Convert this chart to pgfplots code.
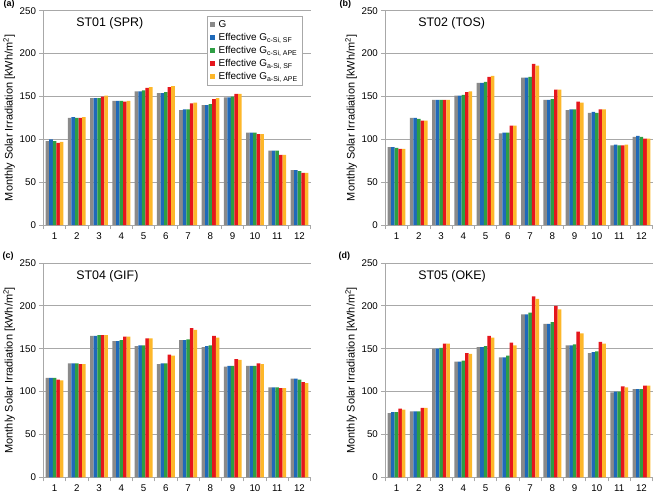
\documentclass[border=0pt]{standalone}
\usepackage{pgfplots}
\pgfplotsset{compat=1.18}
\usepackage{pgfplotstable}
\usepgfplotslibrary{groupplots}
\usepackage{fontspec}
\setmainfont{Liberation Sans}

\definecolor{cG}{HTML}{8A8A8A}
\definecolor{cB}{HTML}{1F69B9}
\definecolor{cGr}{HTML}{2E9E44}
\definecolor{cR}{HTML}{E5161C}
\definecolor{cO}{HTML}{FDB72A}
\definecolor{gridgray}{HTML}{A8A8A8}

% m G cSF cAPE aSF aAPE
\pgfplotstableread{
m G cSF cAPE aSF aAPE
1 98 100 98 96 97
2 125 126 125 125 126
3 148 148 148 150 151
4 145 145 145 144 145
5 156 156 157 160 161
6 154 154 155 161 162
7 134 135 135 142 143
8 140 140 141 147 148
9 149 149 150 153 153
10 108 108 108 106 106
11 87 87 87 82 82
12 64 64 63 61 61
}\stA
\pgfplotstableread{
m G cSF cAPE aSF aAPE
1 91 91 90 89 89
2 125 125 124 122 122
3 146 146 146 146 146
4 151 151 152 155 156
5 166 166 167 173 174
6 107 108 108 116 116
7 172 172 173 188 186
8 146 146 147 158 158
9 134 135 135 144 143
10 131 132 131 135 135
11 93 94 93 93 94
12 103 104 103 101 101
}\stB
\pgfplotstableread{
m G cSF cAPE aSF aAPE
1 116 116 116 114 113
2 133 133 133 132 132
3 165 165 166 166 166
4 159 159 160 164 164
5 153 154 154 162 162
6 132 133 133 143 142
7 160 160 161 174 172
8 152 153 154 165 163
9 129 130 130 138 137
10 130 130 130 133 132
11 105 105 105 104 104
12 115 115 114 111 110
}\stC
\pgfplotstableread{
m G cSF cAPE aSF aAPE
1 75 76 76 80 79
2 77 77 77 81 81
3 150 150 151 156 156
4 135 135 136 145 144
5 152 152 153 165 163
6 140 140 142 157 154
7 190 190 192 211 208
8 179 179 181 200 196
9 154 154 155 170 168
10 145 146 147 158 156
11 99 100 100 106 105
12 103 103 103 107 107
}\stD

\pgfplotsset{
  panel/.style={
    scale only axis, width=268bp, height=215bp, clip=false,
    ybar=0pt, bar width=0.16,
    xmin=0.5, xmax=12.5, ymin=0, ymax=250,
    xtick={1,...,12}, minor xtick={0.5,1.5,...,12.5},
    ytick={0,50,...,250},
    axis x line*=bottom, axis y line*=left,
    ymajorgrids, grid style={draw=gridgray, line width=0.9pt},
    axis line style={draw=gridgray, line width=0.9pt},
    tick align=outside,
    major x tick style={draw=none},
    minor x tick style={draw=gridgray, line width=0.8pt},
    y tick style={draw=gridgray, line width=0.8pt},
    major tick length=4bp, minor tick length=4bp,
    ticklabel style={font=\fontsize{9.8}{11}\selectfont},
    /pgf/number format/assume math mode=true,
    ylabel={Monthly Solar Irradiation [kWh/m\textsuperscript{2}]},
    ylabel style={font=\fontsize{11}{13}\selectfont, yshift=-2bp},
    legend image code/.code={\fill[##1] (0bp,-2.6bp) rectangle (5.2bp,2.6bp);},
  },
  every axis plot/.append style={draw=none},
}

\newcommand{\bars}[1]{%
  \addplot[fill=cG] table[x=m,y=G]{#1};
  \addplot[fill=cB] table[x=m,y=cSF]{#1};
  \addplot[fill=cGr] table[x=m,y=cAPE]{#1};
  \addplot[fill=cR] table[x=m,y=aSF]{#1};
  \addplot[fill=cO] table[x=m,y=aAPE]{#1};
}
\newcommand{\paneltitle}[3]{%
  \node[anchor=west, font=\fontsize{12.5}{14}\selectfont] at (rel axis cs:0.11,0.94) {#1};
  \node[anchor=north west, inner sep=0pt, font=\bfseries\fontsize{9}{10}\selectfont] at ([xshift=-#2,yshift=11bp]rel axis cs:0,1) {(#3)};
}

\begin{document}
\begin{tikzpicture}
\begin{groupplot}[group style={group size=2 by 2, horizontal sep=75bp, vertical sep=38bp}, panel]
\nextgroupplot[legend style={at={(rel axis cs:0.97,0.977)}, anchor=north east,
  draw=gridgray, line width=0.8pt, font=\fontsize{10}{12}\selectfont,
  cells={anchor=west}, row sep=0.4bp, inner sep=2.5bp,
  /tikz/every odd column/.style={column sep=1.5bp}}]
\bars{\stA}
\legend{G, Effective G\textsubscript{c-Si, SF}, Effective G\textsubscript{c-Si, APE},
  Effective G\textsubscript{a-Si, SF}, Effective G\textsubscript{a-Si, APE}}
\paneltitle{ST01 (SPR)}{40bp}{a}
\nextgroupplot
\bars{\stB}
\paneltitle{ST02 (TOS)}{46bp}{b}
\nextgroupplot
\bars{\stC}
\paneltitle{ST04 (GIF)}{41bp}{c}
\nextgroupplot
\bars{\stD}
\paneltitle{ST05 (OKE)}{47bp}{d}
\end{groupplot}
\end{tikzpicture}
\end{document}
